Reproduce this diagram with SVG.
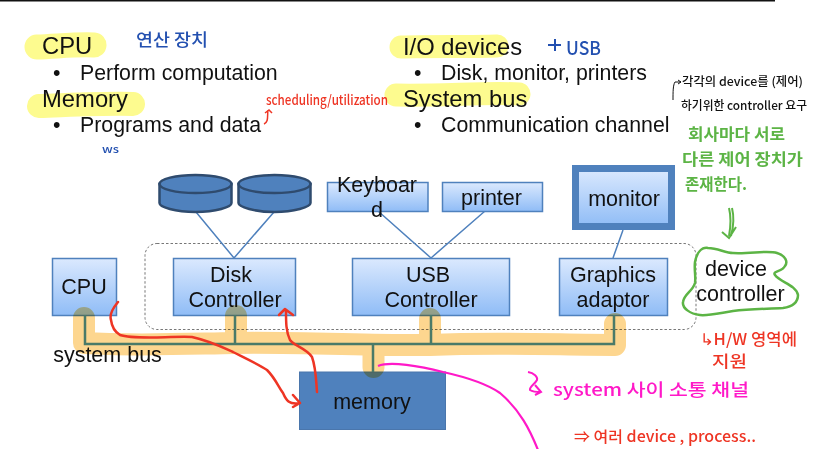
<svg xmlns="http://www.w3.org/2000/svg" width="813" height="449" viewBox="0 0 813 449">
<style>
text{font-family:"Liberation Sans",Arial,sans-serif;fill:#111}
.h{font-size:23.800px}
.b{font-size:21.300px}
.l{font-size:21.500px;text-anchor:middle}
.box{fill:url(#g);stroke:#4f81bd;stroke-width:1.5}
.wire{fill:none;stroke:#4f81bd;stroke-width:1.5}
.bus{fill:none;stroke:#4a7a68;stroke-width:2.5}
.hl{fill:none;stroke-linecap:round;stroke-linejoin:round;mix-blend-mode:multiply}
.hw{font-family:"Noto Sans CJK KR","Liberation Sans",sans-serif;font-weight:500}
.red{fill:none;stroke:#ee3524;stroke-width:2.5;stroke-linecap:round;stroke-linejoin:round}
</style>
<defs>
<linearGradient id="g" x1="0" y1="0" x2="0" y2="1"><stop offset="0" stop-color="#dbe9fe"/><stop offset="1" stop-color="#8fbcf6"/></linearGradient>
</defs>
<rect width="813" height="449" fill="#fff"/>
<rect x="0" y="0" width="775" height="1.5" fill="#111"/>
<g id="highlights-text">
<path class="hl" d="M37 47C60 46 80 44 94 45" stroke="#fdfb8f" stroke-width="25"/>
<path class="hl" d="M39 106C70 105 110 103 133 104" stroke="#fdfb8f" stroke-width="24"/>
<path class="hl" d="M401 47C430 46 470 47 497 46" stroke="#fdfb8f" stroke-width="23"/>
<path class="hl" d="M396 95C440 96 490 92 519 94" stroke="#fdfb8f" stroke-width="23"/>
</g>
<g id="text-cpu"><text class="h" x="42" y="54">CPU</text><text class="b" x="53" y="80">•</text><text class="b" x="80" y="80">Perform computation</text></g>
<g id="text-memory"><text class="h" x="42" y="107">Memory</text><text class="b" x="53" y="132">•</text><text class="b" x="80" y="132">Programs and data</text></g>
<g id="text-io"><text class="h" x="403" y="55">I/O devices</text><text class="b" x="414" y="80">•</text><text class="b" x="441" y="80">Disk, monitor, printers</text></g>
<g id="text-bus"><text class="h" x="403" y="107">System bus</text><text class="b" x="414" y="132">•</text><text class="b" x="441" y="132">Communication channel</text></g>
<rect x="145" y="243.500" width="551" height="86" rx="12" fill="none" stroke="#777" stroke-width="1" stroke-dasharray="2.500 2"/>
<g id="connectors">
<path class="wire" d="M196 212L234 258M274 212L234 258M378 211L431 258M485 211L431 258M623 230L613 258"/>
</g>
<g id="disk1"><path d="M159.500 184V203C159.500 207 175 212 195.500 212S231.500 207 231.500 203V184Z" fill="#4f81bd" stroke="#2f4b6e" stroke-width="2.500"/><ellipse cx="195.500" cy="184" rx="36" ry="9" fill="#4f81bd" stroke="#2f4b6e" stroke-width="2.500"/></g>
<g id="disk2"><path d="M238.500 184V203C238.500 207 255 212 274.500 212S310.500 207 310.500 203V184Z" fill="#4f81bd" stroke="#2f4b6e" stroke-width="2.500"/><ellipse cx="274.500" cy="184" rx="36" ry="9" fill="#4f81bd" stroke="#2f4b6e" stroke-width="2.500"/></g>
<g id="keyboard"><rect class="box" x="327.500" y="182.500" width="100.500" height="29"/><text class="l" x="377" y="192">Keyboar</text><text class="l" x="377" y="217">d</text></g>
<g id="printer"><rect class="box" x="442.500" y="182.500" width="100" height="29"/><text class="l" x="491.500" y="205">printer</text></g>
<g id="monitor"><rect x="575.500" y="168.500" width="96" height="58" fill="url(#g)" stroke="#4f81bd" stroke-width="7"/><text class="l" x="624" y="206">monitor</text></g>
<g id="cpu"><rect class="box" x="52.500" y="258.500" width="64" height="57"/><text class="l" x="84" y="294">CPU</text></g>
<g id="disk-controller"><rect class="box" x="173.500" y="258.500" width="122" height="57"/><text class="l" x="231" y="282">Disk</text><text class="l" x="235" y="307">Controller</text></g>
<g id="usb-controller"><rect class="box" x="352.500" y="258.500" width="157" height="57"/><text class="l" x="428" y="282">USB</text><text class="l" x="431" y="307">Controller</text></g>
<g id="graphics-adaptor"><rect class="box" x="559.500" y="258.500" width="108" height="57"/><text class="l" x="613" y="282">Graphics</text><text class="l" x="613" y="307">adaptor</text></g>
<g id="memory"><rect x="299.500" y="372" width="146" height="57.500" fill="#4f81bd" stroke="#4a76ac"/><text class="l" x="372" y="409">memory</text></g>
<g id="bus">
<text class="l" x="107.500" y="362">system bus</text>
<path class="hl" d="M84 318V343C130 346 180 344 235 343C300 342 380 346 430 345C500 342 560 345 615 345V324M236 316V340M430 319V340M373.500 345V367" stroke="#fdd68f" stroke-width="22"/>
<path class="bus" d="M85 315V344H614V315M235 315V344M431 315V344M373 344V372"/>
</g>
<g id="annotations">
<text class="hw" x="136" y="46" font-size="17" textLength="72" lengthAdjust="spacingAndGlyphs" style="fill:#2350b0">연산 장치</text>
<path d="M548 45H561M555 39V51" stroke="#2350b0" stroke-width="2" fill="none"/>
<text class="hw" x="566" y="55" font-size="19" textLength="35" lengthAdjust="spacingAndGlyphs" style="fill:#2350b0">USB</text>
<text class="hw" x="102" y="153" font-size="11" textLength="17" lengthAdjust="spacingAndGlyphs" style="fill:#2350b0">ws</text>
<text class="hw" x="266" y="105" font-size="14" textLength="122" lengthAdjust="spacingAndGlyphs" style="fill:#ee3524">scheduling/utilization</text>
<path d="M264 124C269 122 267 116 268 110M265 113L269 110L272 113" fill="none" stroke="#ee3524" stroke-width="1.500"/>
<path d="M673 100C673 92 673 85 675 82H681M678 80L681 82L678 84" fill="none" stroke="#111" stroke-width="1"/>
<text class="hw" x="682" y="86" font-size="12" textLength="121" lengthAdjust="spacingAndGlyphs" style="fill:#111">각각의 device를 (제어)</text>
<text class="hw" x="681" y="110" font-size="12" textLength="126" lengthAdjust="spacingAndGlyphs" style="fill:#111">하기위한 controller 요구</text>
<text class="hw" x="688" y="140" font-size="16" textLength="97" lengthAdjust="spacingAndGlyphs" style="fill:#5cb445;font-weight:700">회사마다 서로</text>
<text class="hw" x="682" y="165" font-size="16" textLength="121" lengthAdjust="spacingAndGlyphs" style="fill:#5cb445;font-weight:700">다른 제어 장치가</text>
<text class="hw" x="685" y="190" font-size="16" textLength="62" lengthAdjust="spacingAndGlyphs" style="fill:#5cb445;font-weight:700">존재한다.</text>
<path d="M729 208C731 216 731 225 729 236M732 208C734 216 734 225 731 236M722 232L729 238L736 227" fill="none" stroke="#5cb445" stroke-width="2"/>
<path d="M695 262C697 252 702 247 708 248C718 248 725 253 733 253C750 254 768 250 777 253C786 256 788 262 785 266C782 272 772 271 775 275C780 282 796 285 798 295C798 304 790 307 783 308C765 309 750 309 733 311C720 313 708 316 700 315C690 314 682 308 683 302C684 294 693 291 695 283C696 276 694 270 695 262Z" fill="none" stroke="#5cb445" stroke-width="2.500"/>
<text class="l" x="736" y="276">device</text><text class="l" x="740.500" y="301">controller</text>
<text class="hw" x="700" y="345" font-size="16" textLength="97" lengthAdjust="spacingAndGlyphs" style="fill:#ee3524">↳H/W 영역에</text>
<text class="hw" x="712" y="367" font-size="16" textLength="35" lengthAdjust="spacingAndGlyphs" style="fill:#ee3524">지원</text>
<path d="M528 372C534 373 538 377 537 380C535 384 529 387 530 390C533 392 537 392 541 392M535 385L541 392L535 395" fill="none" stroke="#ff19c8" stroke-width="2"/>
<text class="hw" x="553" y="396" font-size="17" textLength="196" lengthAdjust="spacingAndGlyphs" style="fill:#ff19c8">system 사이 소통 채널</text>
<text class="hw" x="574" y="442" font-size="15" textLength="182" lengthAdjust="spacingAndGlyphs" style="fill:#ee3524">⇒ 여러 device , process..</text>
<path d="M378 366C390 361 420 366 443 372C470 378 490 386 500 393C520 410 530 430 538 450" fill="none" stroke="#ff19c8" stroke-width="2.200"/>
<path class="red" d="M118 302C113 308 109 314 111 320C112 328 115 332 120 335C135 340 170 336 192 337C210 341 220 346 233 352C245 358 258 364 267 370C275 378 278 386 283 393C286 400 289 405 300 403M293 395L300 403L293 407"/>
<path class="red" d="M317 392C316 380 316 368 312 357C306 348 294 346 290 340C286 332 286 322 286 311M279 315L285 309L293 315"/>
</g>
</svg>
